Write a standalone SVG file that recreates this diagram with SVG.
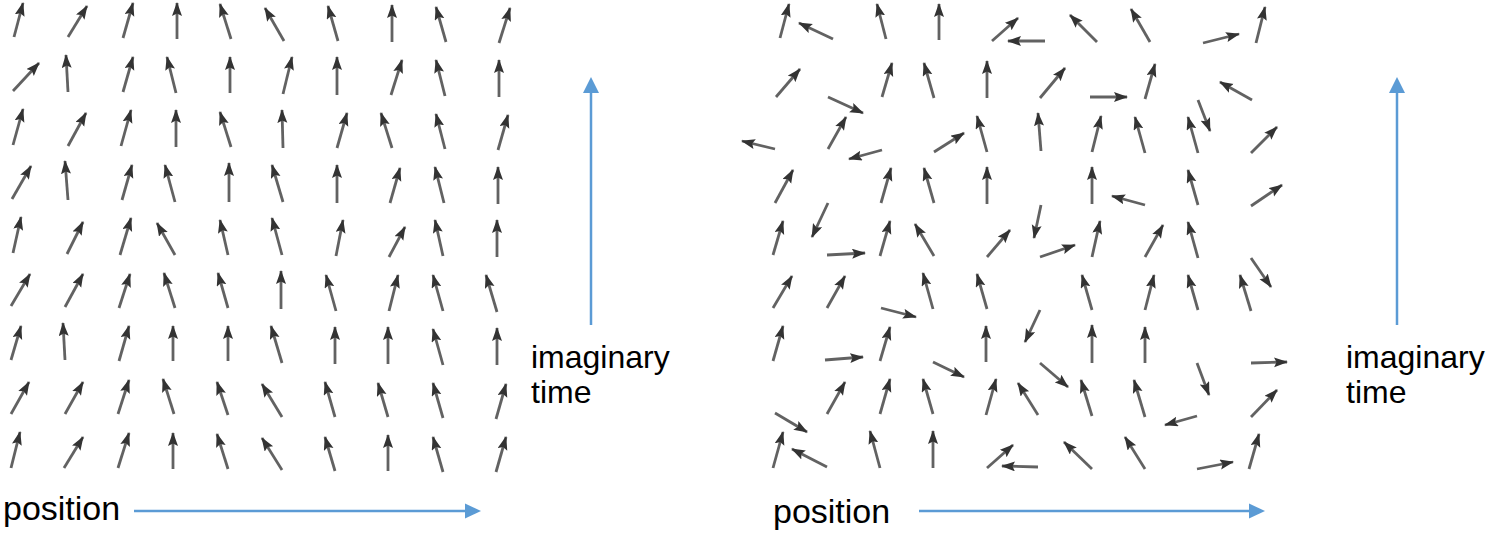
<svg xmlns="http://www.w3.org/2000/svg" width="1488" height="533" viewBox="0 0 1488 533">
<style>
.s{stroke:#626262;stroke-width:2.8;fill:none;marker-end:url(#ah)}
.ax{stroke:#5B9BD5;stroke-width:2.5;fill:none}
.lbl{font-family:"Liberation Sans",Arial,Helvetica,sans-serif;fill:#000}
</style>
<defs>
<marker id="ah" markerUnits="userSpaceOnUse" markerWidth="16" markerHeight="11" refX="13" refY="5" orient="auto">
<path d="M0,0 L14,5 L0,10 L2.5,5 z" fill="#333"/>
</marker>
</defs>
<rect width="1488" height="533" fill="#fff"/>
<g id="left-field">
<line class="s" x1="14" y1="37" x2="23" y2="3"/>
<line class="s" x1="68" y1="37" x2="87" y2="6"/>
<line class="s" x1="123" y1="38" x2="133" y2="3"/>
<line class="s" x1="177" y1="39" x2="177" y2="3"/>
<line class="s" x1="231" y1="39" x2="220" y2="4"/>
<line class="s" x1="284" y1="41" x2="265" y2="8"/>
<line class="s" x1="338" y1="41" x2="328" y2="6"/>
<line class="s" x1="392" y1="42" x2="392" y2="5"/>
<line class="s" x1="446" y1="42" x2="436" y2="7"/>
<line class="s" x1="499" y1="43" x2="510" y2="8"/>
<line class="s" x1="13" y1="91" x2="39" y2="63"/>
<line class="s" x1="68" y1="92" x2="66" y2="55"/>
<line class="s" x1="123" y1="92" x2="133" y2="57"/>
<line class="s" x1="176" y1="93" x2="167" y2="57"/>
<line class="s" x1="230" y1="93" x2="230" y2="57"/>
<line class="s" x1="283" y1="94" x2="292" y2="57"/>
<line class="s" x1="337" y1="95" x2="337" y2="57"/>
<line class="s" x1="391" y1="95" x2="402" y2="60"/>
<line class="s" x1="445" y1="96" x2="436" y2="60"/>
<line class="s" x1="499" y1="97" x2="499" y2="60"/>
<line class="s" x1="13" y1="145" x2="23" y2="109"/>
<line class="s" x1="68" y1="146" x2="86" y2="113"/>
<line class="s" x1="121" y1="146" x2="131" y2="110"/>
<line class="s" x1="176" y1="147" x2="176" y2="110"/>
<line class="s" x1="231" y1="147" x2="220" y2="112"/>
<line class="s" x1="283" y1="148" x2="282" y2="110"/>
<line class="s" x1="337" y1="148" x2="347" y2="113"/>
<line class="s" x1="392" y1="148" x2="381" y2="113"/>
<line class="s" x1="445" y1="149" x2="436" y2="114"/>
<line class="s" x1="498" y1="150" x2="508" y2="115"/>
<line class="s" x1="12" y1="199" x2="31" y2="166"/>
<line class="s" x1="68" y1="200" x2="65" y2="161"/>
<line class="s" x1="122" y1="200" x2="132" y2="165"/>
<line class="s" x1="175" y1="202" x2="165" y2="165"/>
<line class="s" x1="229" y1="202" x2="229" y2="163"/>
<line class="s" x1="283" y1="202" x2="272" y2="165"/>
<line class="s" x1="337" y1="203" x2="337" y2="165"/>
<line class="s" x1="390" y1="203" x2="400" y2="168"/>
<line class="s" x1="444" y1="203" x2="435" y2="167"/>
<line class="s" x1="498" y1="204" x2="498" y2="167"/>
<line class="s" x1="13" y1="253" x2="21" y2="217"/>
<line class="s" x1="67" y1="254" x2="83" y2="222"/>
<line class="s" x1="120" y1="255" x2="131" y2="218"/>
<line class="s" x1="175" y1="255" x2="157" y2="223"/>
<line class="s" x1="228" y1="255" x2="220" y2="220"/>
<line class="s" x1="282" y1="255" x2="272" y2="218"/>
<line class="s" x1="336" y1="256" x2="343" y2="220"/>
<line class="s" x1="389" y1="257" x2="405" y2="227"/>
<line class="s" x1="443" y1="256" x2="435" y2="220"/>
<line class="s" x1="497" y1="257" x2="497" y2="220"/>
<line class="s" x1="11" y1="306" x2="30" y2="274"/>
<line class="s" x1="65" y1="307" x2="83" y2="274"/>
<line class="s" x1="119" y1="308" x2="130" y2="274"/>
<line class="s" x1="175" y1="308" x2="164" y2="273"/>
<line class="s" x1="228" y1="308" x2="218" y2="273"/>
<line class="s" x1="281" y1="309" x2="281" y2="271"/>
<line class="s" x1="336" y1="311" x2="326" y2="275"/>
<line class="s" x1="389" y1="311" x2="398" y2="275"/>
<line class="s" x1="443" y1="311" x2="433" y2="275"/>
<line class="s" x1="497" y1="312" x2="486" y2="275"/>
<line class="s" x1="11" y1="360" x2="21" y2="326"/>
<line class="s" x1="65" y1="360" x2="63" y2="323"/>
<line class="s" x1="119" y1="361" x2="129" y2="326"/>
<line class="s" x1="173" y1="361" x2="173" y2="326"/>
<line class="s" x1="228" y1="361" x2="228" y2="326"/>
<line class="s" x1="282" y1="363" x2="271" y2="326"/>
<line class="s" x1="335" y1="364" x2="335" y2="327"/>
<line class="s" x1="388" y1="364" x2="388" y2="327"/>
<line class="s" x1="443" y1="365" x2="433" y2="329"/>
<line class="s" x1="497" y1="365" x2="497" y2="328"/>
<line class="s" x1="11" y1="414" x2="29" y2="382"/>
<line class="s" x1="65" y1="414" x2="83" y2="382"/>
<line class="s" x1="118" y1="414" x2="129" y2="380"/>
<line class="s" x1="174" y1="414" x2="163" y2="379"/>
<line class="s" x1="228" y1="415" x2="217" y2="382"/>
<line class="s" x1="282" y1="417" x2="262" y2="384"/>
<line class="s" x1="335" y1="417" x2="325" y2="382"/>
<line class="s" x1="388" y1="417" x2="378" y2="383"/>
<line class="s" x1="443" y1="418" x2="433" y2="383"/>
<line class="s" x1="496" y1="419" x2="506" y2="384"/>
<line class="s" x1="11" y1="468" x2="20" y2="432"/>
<line class="s" x1="64" y1="468" x2="83" y2="437"/>
<line class="s" x1="118" y1="468" x2="129" y2="433"/>
<line class="s" x1="173" y1="469" x2="173" y2="433"/>
<line class="s" x1="228" y1="469" x2="217" y2="434"/>
<line class="s" x1="282" y1="470" x2="262" y2="438"/>
<line class="s" x1="335" y1="471" x2="325" y2="437"/>
<line class="s" x1="388" y1="471" x2="388" y2="435"/>
<line class="s" x1="443" y1="472" x2="433" y2="437"/>
<line class="s" x1="496" y1="472" x2="506" y2="437"/>
</g>
<g id="right-field">
<line class="s" x1="780" y1="38" x2="789" y2="4"/>
<line class="s" x1="833" y1="39" x2="799" y2="23"/>
<line class="s" x1="886" y1="39" x2="877" y2="4"/>
<line class="s" x1="939" y1="40" x2="939" y2="4"/>
<line class="s" x1="992" y1="41" x2="1018" y2="18"/>
<line class="s" x1="1045" y1="41" x2="1008" y2="41"/>
<line class="s" x1="1097" y1="42" x2="1070" y2="15"/>
<line class="s" x1="1150" y1="42" x2="1131" y2="9"/>
<line class="s" x1="1203" y1="43" x2="1239" y2="34"/>
<line class="s" x1="1256" y1="43" x2="1265" y2="7"/>
<line class="s" x1="776" y1="97" x2="800" y2="69"/>
<line class="s" x1="828" y1="97" x2="863" y2="113"/>
<line class="s" x1="882" y1="97" x2="892" y2="63"/>
<line class="s" x1="934" y1="98" x2="924" y2="63"/>
<line class="s" x1="987" y1="98" x2="987" y2="61"/>
<line class="s" x1="1040" y1="98" x2="1065" y2="68"/>
<line class="s" x1="1090" y1="97" x2="1127" y2="97"/>
<line class="s" x1="1145" y1="99" x2="1155" y2="64"/>
<line class="s" x1="1198" y1="100" x2="1210" y2="131"/>
<line class="s" x1="1252" y1="100" x2="1220" y2="82"/>
<line class="s" x1="775" y1="149" x2="742" y2="141"/>
<line class="s" x1="828" y1="149" x2="846" y2="117"/>
<line class="s" x1="882" y1="150" x2="849" y2="159"/>
<line class="s" x1="934" y1="152" x2="964" y2="133"/>
<line class="s" x1="987" y1="152" x2="977" y2="116"/>
<line class="s" x1="1041" y1="151" x2="1038" y2="113"/>
<line class="s" x1="1092" y1="152" x2="1101" y2="116"/>
<line class="s" x1="1145" y1="153" x2="1135" y2="117"/>
<line class="s" x1="1198" y1="153" x2="1188" y2="117"/>
<line class="s" x1="1251" y1="153" x2="1277" y2="127"/>
<line class="s" x1="775" y1="203" x2="793" y2="170"/>
<line class="s" x1="828" y1="203" x2="812" y2="237"/>
<line class="s" x1="881" y1="203" x2="891" y2="168"/>
<line class="s" x1="934" y1="203" x2="924" y2="168"/>
<line class="s" x1="987" y1="204" x2="987" y2="167"/>
<line class="s" x1="1041" y1="205" x2="1034" y2="238"/>
<line class="s" x1="1092" y1="204" x2="1092" y2="167"/>
<line class="s" x1="1145" y1="205" x2="1112" y2="196"/>
<line class="s" x1="1198" y1="205" x2="1188" y2="170"/>
<line class="s" x1="1251" y1="206" x2="1282" y2="185"/>
<line class="s" x1="773" y1="255" x2="783" y2="221"/>
<line class="s" x1="827" y1="255" x2="865" y2="253"/>
<line class="s" x1="880" y1="256" x2="890" y2="221"/>
<line class="s" x1="934" y1="256" x2="915" y2="224"/>
<line class="s" x1="987" y1="257" x2="1010" y2="230"/>
<line class="s" x1="1040" y1="257" x2="1075" y2="245"/>
<line class="s" x1="1092" y1="257" x2="1100" y2="221"/>
<line class="s" x1="1145" y1="257" x2="1163" y2="225"/>
<line class="s" x1="1198" y1="258" x2="1188" y2="222"/>
<line class="s" x1="1251" y1="258" x2="1271" y2="287"/>
<line class="s" x1="773" y1="308" x2="792" y2="276"/>
<line class="s" x1="827" y1="308" x2="845" y2="276"/>
<line class="s" x1="881" y1="308" x2="916" y2="317"/>
<line class="s" x1="933" y1="309" x2="923" y2="273"/>
<line class="s" x1="987" y1="309" x2="977" y2="274"/>
<line class="s" x1="1040" y1="310" x2="1025" y2="342"/>
<line class="s" x1="1092" y1="310" x2="1082" y2="275"/>
<line class="s" x1="1145" y1="310" x2="1154" y2="275"/>
<line class="s" x1="1198" y1="310" x2="1188" y2="275"/>
<line class="s" x1="1251" y1="311" x2="1240" y2="275"/>
<line class="s" x1="773" y1="361" x2="783" y2="326"/>
<line class="s" x1="825" y1="360" x2="863" y2="357"/>
<line class="s" x1="880" y1="361" x2="890" y2="327"/>
<line class="s" x1="933" y1="362" x2="964" y2="377"/>
<line class="s" x1="986" y1="362" x2="986" y2="326"/>
<line class="s" x1="1040" y1="363" x2="1068" y2="387"/>
<line class="s" x1="1092" y1="363" x2="1092" y2="325"/>
<line class="s" x1="1145" y1="363" x2="1145" y2="327"/>
<line class="s" x1="1197" y1="363" x2="1209" y2="395"/>
<line class="s" x1="1251" y1="363" x2="1287" y2="362"/>
<line class="s" x1="775" y1="413" x2="807" y2="432"/>
<line class="s" x1="827" y1="414" x2="845" y2="382"/>
<line class="s" x1="880" y1="414" x2="890" y2="379"/>
<line class="s" x1="933" y1="414" x2="923" y2="379"/>
<line class="s" x1="986" y1="415" x2="996" y2="379"/>
<line class="s" x1="1038" y1="415" x2="1018" y2="383"/>
<line class="s" x1="1092" y1="416" x2="1081" y2="380"/>
<line class="s" x1="1145" y1="417" x2="1134" y2="380"/>
<line class="s" x1="1197" y1="416" x2="1165" y2="425"/>
<line class="s" x1="1251" y1="417" x2="1277" y2="390"/>
<line class="s" x1="773" y1="468" x2="783" y2="432"/>
<line class="s" x1="827" y1="467" x2="792" y2="449"/>
<line class="s" x1="880" y1="468" x2="870" y2="431"/>
<line class="s" x1="933" y1="468" x2="933" y2="431"/>
<line class="s" x1="987" y1="468" x2="1013" y2="445"/>
<line class="s" x1="1038" y1="467" x2="1002" y2="466"/>
<line class="s" x1="1092" y1="469" x2="1064" y2="442"/>
<line class="s" x1="1145" y1="469" x2="1125" y2="437"/>
<line class="s" x1="1197" y1="469" x2="1233" y2="462"/>
<line class="s" x1="1249" y1="469" x2="1259" y2="434"/>
</g>
<g id="left-axes">
<line class="ax" x1="591" y1="325" x2="591" y2="92"/>
<polygon points="591,77 583,93 599,93" fill="#5B9BD5"/>
<line class="ax" x1="134" y1="511" x2="466" y2="511"/>
<polygon points="481,511 465,503.5 465,518.5" fill="#5B9BD5"/>
<text class="lbl" x="531" y="368" font-size="32">imaginary</text>
<text class="lbl" x="531" y="403" font-size="32">time</text>
<text class="lbl" x="3" y="520" font-size="34">position</text>
</g>
<g id="right-axes">
<line class="ax" x1="1397" y1="325" x2="1397" y2="92"/>
<polygon points="1397,77 1389,93 1405,93" fill="#5B9BD5"/>
<line class="ax" x1="919" y1="511" x2="1250" y2="511"/>
<polygon points="1265,511 1249,503.5 1249,518.5" fill="#5B9BD5"/>
<text class="lbl" x="1346" y="368" font-size="32">imaginary</text>
<text class="lbl" x="1346" y="403" font-size="32">time</text>
<text class="lbl" x="773" y="523" font-size="34">position</text>
</g>
</svg>
